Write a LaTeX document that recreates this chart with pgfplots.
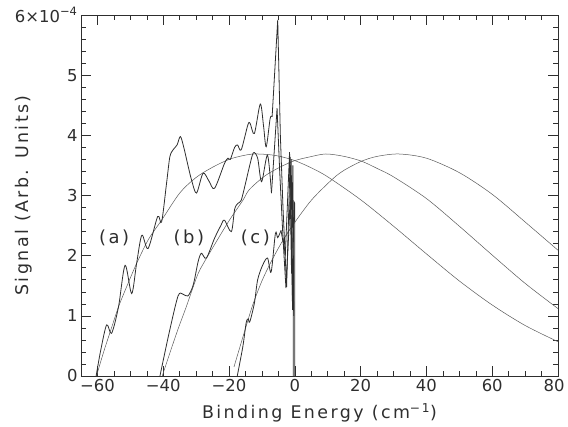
\documentclass[border=0pt]{standalone}
\usepackage{pgfplots}
\pgfplotsset{compat=1.18}
\usepackage{fontspec}
\setmainfont{DejaVu Sans}
\newfontfamily\lblfont{DejaVu Sans}[LetterSpace=14]
\definecolor{ink}{gray}{0.18}
\begin{document}
\begin{tikzpicture}
\path[use as bounding box] (-81bp,-51bp) rectangle (487bp,376bp);
\begin{axis}[
  scale only axis, width=477bp, height=361bp,
  at={(0,0)}, anchor=south west,
  xmin=-65, xmax=80, ymin=0, ymax=6,
  xtick={-60,-40,...,80},
  xticklabels={−60,−40,−20,0,20,40,60,{\hspace*{-8bp}80}},
  minor x tick num=3,
  ytick={0,1,2,3,4,5,6},
  yticklabels={0,1,2,3,4,5,{6×10\textsuperscript{−4}}},
  minor y tick num=4,
  major tick length=10bp, minor tick length=5bp,
  tick style={ink, line width=0.5bp},
  axis line style={ink, line width=0.7bp},
  tick label style={font=\fontsize{16.5}{18}\selectfont, text=ink},
  xlabel={Binding Energy (cm\textsuperscript{−1})},
  ylabel={Signal (Arb. Units)},
  every axis x label/.style={at={(axis description cs:0.5,0)}, anchor=center, yshift=-37bp, font=\lblfont\fontsize{17.5}{20}\selectfont, text=ink},
  every axis y label/.style={at={(axis description cs:-0.12,0.5)}, rotate=90, anchor=center, font=\lblfont\fontsize{17.5}{20}\selectfont, text=ink},
]
% ---- fits (smooth curves) ----
\addplot[smooth, black!65, line width=0.5bp] coordinates {
(-60.3,0) (-58,0.42) (-55.6,0.82) (-53.6,1.15) (-51,1.5) (-48.1,1.87) (-44.5,2.27) (-40.5,2.59) (-35,3.04) (-30,3.3) (-25,3.47) (-20,3.6) (-16,3.66) (-12.5,3.69) (-8,3.68) (-4.5,3.65) (0,3.58) (5,3.46) (10,3.31) (20,2.93) (30,2.49) (40,2.03) (50,1.58) (60,1.18) (70,0.84) (80,0.57)};
\addplot[smooth, black!65, line width=0.5bp] coordinates {
(-40.3,0) (-38,0.38) (-35.5,0.78) (-33,1.15) (-30.9,1.48) (-28.9,1.76) (-24,2.22) (-20,2.58) (-15.8,2.92) (-13.8,3.1) (-9,3.33) (-4.2,3.48) (0,3.58) (4.4,3.64) (9.4,3.69) (15,3.65) (20.3,3.57) (25,3.45) (30,3.31) (40,2.95) (50,2.49) (60,2.01) (70,1.54) (80,1.12)};
\addplot[smooth, black!65, line width=0.5bp] coordinates {
(-18.5,0.15) (-15.5,0.7) (-12.8,1.18) (-10,1.58) (-7.2,1.9) (-4,2.22) (-0.7,2.5) (5,2.92) (11.4,3.27) (15,3.42) (20.3,3.57) (25,3.65) (31.6,3.69) (40,3.62) (50,3.38) (60,3.02) (70,2.56) (80,2.09)};
% ---- data (a) ----
\addplot[smooth, tension=0.5, ink, line width=0.8bp] coordinates {
(-60.4,0) (-59,0.43) (-57.2,0.85) (-55.7,0.71) (-53.6,1.15) (-51.6,1.84) (-49.6,1.37) (-48.1,1.87) (-46.5,2.34) (-44.6,2.12) (-41.7,2.65) (-40.5,2.56) (-39,3.2) (-38,3.64) (-37,3.76) (-35.8,3.84) (-34.8,3.98) (-33.8,3.81) (-32.4,3.48) (-31.4,3.26) (-29.9,3.04) (-27.9,3.37) (-26.1,3.24) (-24.4,3.12) (-21.4,3.53) (-20.3,3.62) (-19.6,3.6) (-18.3,3.8) (-17.4,3.84) (-16.3,3.76) (-14.3,4.17) (-13.6,4.2) (-12.3,4.03) (-10.5,4.52) (-9.5,4.15) (-8.7,3.81) (-7.5,4.28) (-6.9,4.31)};
\addplot[ink, line width=0.8bp] coordinates {
(-6.9,4.31) (-5.2,5.92) (-4.4,4.0) (-3.6,2.8) (-2.5,1.48) (-1.4,3.64) (-0.7,1.1) (-0.45,1.2) (-0.45,0)};
% ---- data (b) ----
\addplot[smooth, tension=0.5, ink, line width=0.8bp] coordinates {
(-41.0,0) (-38.2,0.72) (-35.5,1.33) (-34,1.36) (-32.5,1.33) (-30.9,1.51) (-29.4,1.9) (-28.4,2.04) (-26.9,1.96) (-24.4,2.29) (-22.4,2.51) (-21.4,2.59) (-19.3,2.4) (-18.3,2.77) (-17.3,2.87) (-16.3,2.92) (-15,3.2) (-13.8,3.48) (-12.6,3.71) (-11.3,3.62) (-10.1,3.23) (-8.3,3.67) (-7.1,3.04)};
\addplot[ink, line width=0.8bp] coordinates {
(-7.1,3.04) (-6.3,3.7) (-5.4,4.45) (-4.6,3.4) (-3.6,2.3) (-2.9,2.0) (-1.6,3.72) (-1.0,1.7) (-0.6,3.5) (-0.35,1.0)};
% ---- data (c) ----
\addplot[smooth, tension=0.5, ink, line width=0.8bp] coordinates {
(-17.5,0) (-15.8,0.49) (-14.8,0.88) (-14.2,0.95) (-13.7,0.9) (-12.3,1.21) (-11.3,1.6) (-9.8,1.84) (-8.3,1.96) (-7.2,1.73) (-5.9,2.37) (-5.2,2.3) (-4.2,2.42)};
\addplot[ink, line width=0.8bp] coordinates {
(-4.2,2.42) (-3.5,2.2) (-2.7,1.46) (-1.7,2.54) (-1.1,3.6) (-0.7,1.1) (-0.3,2.9) (0,2.87) (0,0)};
% ---- labels ----
\node[font=\lblfont\fontsize{18}{20}\selectfont, text=ink] at (axis cs:-54.9,2.29) {(a)};
\node[font=\lblfont\fontsize{18}{20}\selectfont, text=ink] at (axis cs:-32.2,2.29) {(b)};
\node[font=\lblfont\fontsize{18}{20}\selectfont, text=ink] at (axis cs:-12.0,2.29) {(c)};
\end{axis}
\end{tikzpicture}
\end{document}
